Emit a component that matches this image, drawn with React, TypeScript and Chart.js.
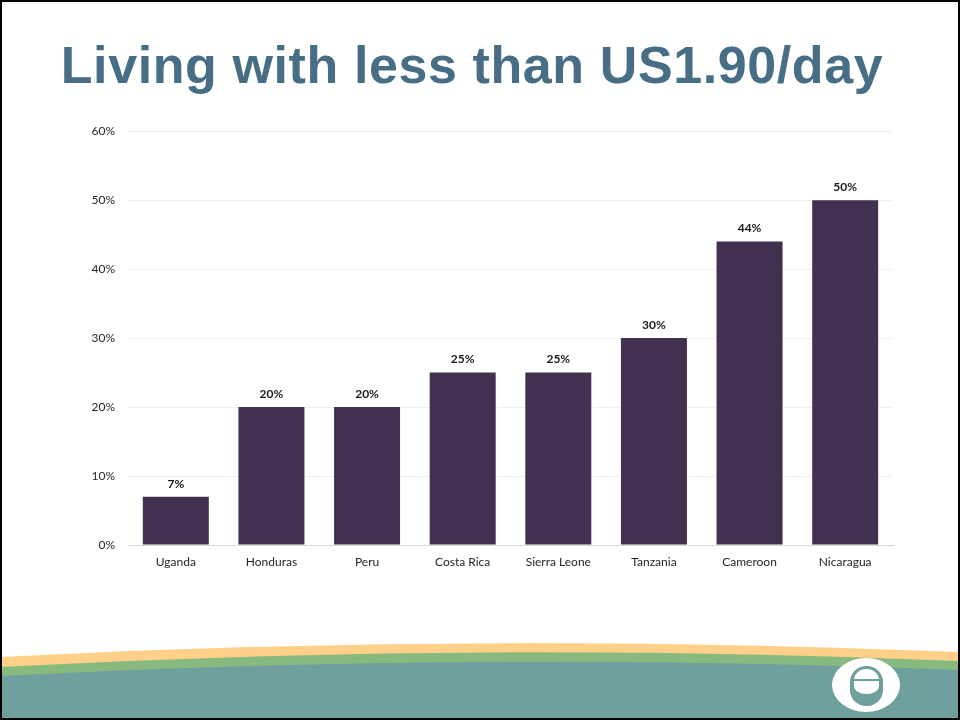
import React, { useEffect, useRef } from "react";
import { Chart, registerables } from "chart.js";

Chart.register(...registerables);

const categories = ["Uganda", "Honduras", "Peru", "Costa Rica", "Sierra Leone", "Tanzania", "Cameroon", "Nicaragua"];
const values = [7, 20, 20, 25, 25, 30, 44, 50];
const yMax = 60;
const yStep = 10;
const titleText = "Living with less than US1.90/day";

const FONT = "Lato, 'Open Sans', sans-serif";

const labelPlugin = {
  id: "barLabels",
  afterDatasetsDraw(chart: any) {
    const ctx = chart.ctx;
    const meta = chart.getDatasetMeta(0);
    ctx.save();
    ctx.font = `bold 12px ${FONT}`;
    ctx.fillStyle = "#1a1a1a";
    ctx.textAlign = "center";
    ctx.textBaseline = "bottom";
    meta.data.forEach((bar: any, i: number) => {
      ctx.fillText(values[i] + "%", bar.x, bar.y - 7);
    });
    ctx.restore();
  },
};

export default function App() {
  const ref = useRef<HTMLCanvasElement>(null);
  useEffect(() => {
    if (!ref.current) return;
    const chart = new Chart(ref.current, {
      type: "bar",
      data: {
        labels: categories,
        datasets: [
          {
            data: values,
            backgroundColor: "#41304F",
            barPercentage: 0.69,
            categoryPercentage: 1,
          },
        ],
      },
      options: {
        animation: false,
        responsive: false,
        maintainAspectRatio: false,
        layout: { padding: { top: 12, right: 17, left: 0, bottom: 0 } },
        plugins: { legend: { display: false }, tooltip: { enabled: false }, title: { display: false } },
        scales: {
          x: {
            grid: { display: false, drawTicks: false },
            border: { display: true, color: "#d9d9d9", width: 1 },
            ticks: { color: "#262626", font: { family: FONT, size: 12 }, padding: 10 },
            afterFit(scale: any) {
              scale.height = 40;
            },
          },
          y: {
            min: 0,
            max: yMax,
            grid: { color: "#f0f0f0", drawTicks: false },
            border: { display: false },
            ticks: {
              stepSize: yStep,
              color: "#262626",
              font: { family: FONT, size: 12 },
              padding: 13,
              callback: (v: any) => v + "%",
            },
            afterFit(scale: any) {
              scale.width = 68;
            },
          },
        },
      },
      plugins: [labelPlugin],
    });
    return () => chart.destroy();
  }, []);

  return (
    <div
      style={{
        position: "fixed",
        left: 0,
        top: 0,
        width: 960,
        height: 720,
        background: "#fff",
        overflow: "hidden",
      }}
    >
      <div
        style={{
          position: "absolute",
          left: 0,
          top: 35,
          width: 944,
          textAlign: "center",
          fontFamily: "'Liberation Sans', Arial, sans-serif",
          fontWeight: "bold",
          fontSize: 52,
          letterSpacing: 0.6,
          lineHeight: "60px",
          color: "#476E84",
          whiteSpace: "nowrap",
        }}
      >
        {titleText}
      </div>
      <canvas
        ref={ref}
        width={850}
        height={474}
        style={{ position: "absolute", left: 60, top: 111, width: 850, height: 474 }}
      />
      <svg
        width={960}
        height={720}
        style={{ position: "absolute", left: 0, top: 0, pointerEvents: "none" }}
      >
        <path d="M0,657 Q480,632 960,652 L960,720 L0,720 Z" fill="#FED08A" />
        <path d="M0,667 Q480,641 960,661 L960,720 L0,720 Z" fill="#88BA80" />
        <path d="M0,676 Q480,651 960,670 L960,720 L0,720 Z" fill="#6FA09D" />
        <ellipse cx={866} cy={685} rx={34} ry={27} fill="#fff" />
        <rect x={850} y={666} width={33} height={40} rx={16} ry={16} fill="#6FA09D" />
        <path d="M854,680 A12.5,11 0 0 1 879,680 L879,686 A12.5,8 0 0 1 854,686 Z" fill="#fff" />
        <line x1={853} x2={880} y1={680} y2={680} stroke="#6FA09D" strokeWidth={2} />
        <rect x={1} y={1} width={958} height={718} fill="none" stroke="#000" strokeWidth={2} />
      </svg>
    </div>
  );
}
